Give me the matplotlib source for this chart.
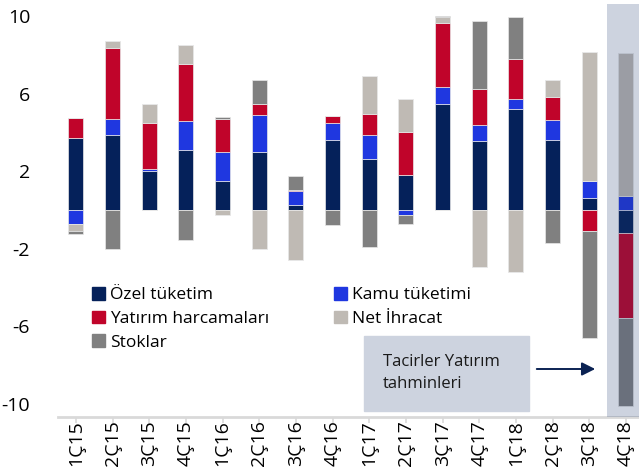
import numpy as np
import matplotlib
matplotlib.use("Agg")
import matplotlib.pyplot as plt
from matplotlib.patches import Patch, Rectangle

plt.rcParams['font.family'] = ['Open Sans', 'DejaVu Sans']

quarters = ["1Ç15", "2Ç15", "3Ç15", "4Ç15", "1Ç16", "2Ç16", "3Ç16", "4Ç16",
            "1Ç17", "2Ç17", "3Ç17", "4Ç17", "1Ç18", "2Ç18", "3Ç18", "4Ç18"]

ozel = [3.69, 3.88, 1.99, 3.08, 1.49, 3.00, 0.27, 3.62, 2.65, 1.82, 5.48, 3.57, 5.22, 3.62, 0.64, -1.20]
kamu = [-0.72, 0.83, 0.14, 1.52, 1.51, 1.90, 0.69, 0.86, 1.20, -0.24, 0.86, 0.83, 0.48, 1.00, 0.85, 0.72]
yatirim = [1.04, 3.62, 2.37, 2.94, 1.70, 0.58, 0.09, 0.37, 1.10, 2.18, 3.28, 1.85, 2.10, 1.20, -1.08, -4.37]
net_ihracat = [-0.36, 0.38, 0.96, 0.98, -0.24, -2.03, -2.56, 0.00, 1.94, 1.72, 0.34, -2.95, -3.21, 0.88, 6.64, 7.36]
stoklar = [-0.16, -2.03, 0.00, -1.55, 0.12, 1.24, 0.69, -0.77, -1.91, -0.47, 0.06, 3.51, 2.16, -1.70, -5.50, -4.52]

series = [
    ("Özel tüketim", ozel, "#05215a"),
    ("Kamu tüketimi", kamu, "#1f37e0"),
    ("Yatırım harcamaları", yatirim, "#c0042a"),
    ("Net İhracat", net_ihracat, "#bfbab4"),
    ("Stoklar", stoklar, "#808080"),
]

yticks = [10, 6, 2, -2, -6, -10]

W, H = 639, 474
fig = plt.figure(figsize=(W / 100, H / 100), dpi=100)
ax = fig.add_axes([58 / W, 57 / H, (W - 58) / W, 413 / H])

x = np.arange(len(quarters))
pos_bottom = np.zeros(len(x))
neg_bottom = np.zeros(len(x))
for name, vals, color in series:
    v = np.array(vals)
    p = np.clip(v, 0, None)
    n = np.clip(v, None, 0)
    ax.bar(x, p, 0.41, bottom=pos_bottom, color=color, edgecolor="#e8e8e8", linewidth=0.5, zorder=2)
    ax.bar(x, n, 0.41, bottom=neg_bottom, color=color, edgecolor="#e8e8e8", linewidth=0.5, zorder=2)
    pos_bottom += p
    neg_bottom += n

# forecast shading
ax.axvspan(14.48, 15.6, color="#1f3a6e", alpha=0.22, lw=0, zorder=4)

ax.set_xlim(-0.49, 15.355)
ax.set_ylim(-10.67, 10.62)

for s in ax.spines.values():
    s.set_visible(False)

ax.set_yticks(yticks)
ax.set_yticklabels([str(t) for t in yticks])
ax.tick_params(axis="y", length=0, pad=20, labelsize=14)
ax.set_xticks(x)
ax.set_xticklabels(quarters, rotation=90)
ax.tick_params(axis="x", length=0, pad=2, labelsize=14)

# zero axis with small ticks
zero_ax = ax.secondary_xaxis(0)
zero_ax.set_xticks(x)
zero_ax.tick_params(length=4, width=1.2, color="#d9d9d9", labelbottom=False)
zero_ax.spines["bottom"].set_color("#d9d9d9")
zero_ax.spines["bottom"].set_linewidth(2)

order = [0, 2, 4, 1, 3]
handles = [Patch(color=series[i][2], label=series[i][0]) for i in order]
fig.legend(handles=handles, ncol=2, frameon=False, loc="upper left",
           bbox_to_anchor=(92 / W, 1 - 287 / H), borderaxespad=0, borderpad=0,
           fontsize=12.5, handlelength=0.75, handleheight=0.75, handletextpad=0.3,
           columnspacing=3.7, labelspacing=0.42)

# forecast note
fig.patches.append(Rectangle((364 / W, 1 - 411 / H), 165 / W, 75 / H,
                             transform=fig.transFigure, color="#cdd3df", zorder=1))
fig.text(383 / W, 1 - 373 / H, "Tacirler Yatırım\ntahminleri", fontsize=12,
         ha="left", va="center", color="#1a1a1a", linespacing=1.55)
fig.add_artist(matplotlib.patches.FancyArrowPatch(
    (534 / W, 1 - 369 / H), (598 / W, 1 - 369 / H), transform=fig.transFigure,
    arrowstyle="-|>", mutation_scale=20, lw=1.4, color="#0b2253"))

fig.savefig("out.png", dpi=100)
